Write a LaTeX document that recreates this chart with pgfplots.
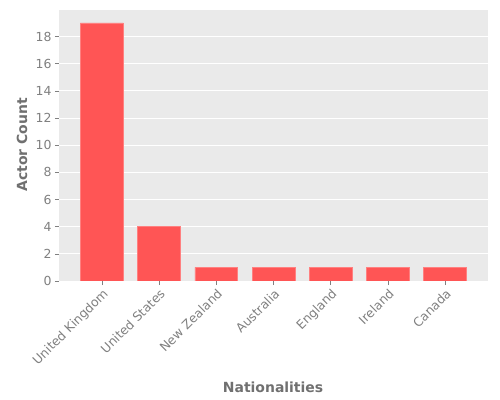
\documentclass[border=0pt]{standalone}
\usepackage{pgfplots}
\pgfplotsset{compat=1.18}
\usepackage{fontspec}
\setmainfont{DejaVu Sans}
\definecolor{barred}{HTML}{FF5555}
\definecolor{baredge}{HTML}{FF8080}
\definecolor{bggray}{HTML}{EAEAEA}
\definecolor{ticktext}{HTML}{808080}
\definecolor{labeltext}{HTML}{707070}
\begin{document}
\begin{tikzpicture}
\path[use as bounding box] (0bp,0bp) rectangle (500bp,400bp);
\begin{axis}[
  at={(59bp,119bp)}, anchor=south west,
  scale only axis, width=429bp, height=271bp,
  xmin=-0.75, xmax=6.75, ymin=0, ymax=19.95,
  axis background/.style={fill=bggray},
  axis line style={draw=none},
  ytick={0,2,...,18},
  xtick={0,...,6},
  xticklabels={United Kingdom,United States,New Zealand,Australia,England,Ireland,Canada},
  xtick pos=bottom, ytick pos=left,
  tick align=outside, major tick length=4bp,
  tick style={ticktext, line width=0.6pt},
  ymajorgrids, grid style={white, line width=0.9pt},
  ticklabel style={font=\fontsize{12.5}{14}\selectfont, text=ticktext},
  xticklabel style={rotate=45, anchor=north east, inner sep=2pt},
  /pgf/number format/assume math mode=true,
  ybar, bar width=0.75, bar shift=0pt,
  xlabel={Nationalities}, ylabel={Actor Count},
  label style={font=\fontsize{14}{16}\selectfont\bfseries, text=labeltext},
  xlabel style={at={(axis description cs:0.499,-0.391)}, anchor=center},
  ylabel style={at={(axis description cs:-0.086,0.502)}, anchor=center},
]
\addplot[fill=barred, draw=baredge, line width=0.6pt] coordinates {
  (0,19) (1,4) (2,1) (3,1) (4,1) (5,1) (6,1)
};
\end{axis}
\end{tikzpicture}
\end{document}
